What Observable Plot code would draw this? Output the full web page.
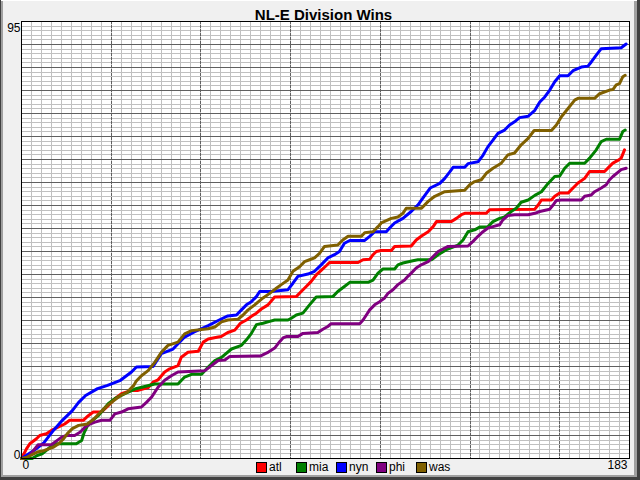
<!DOCTYPE html>
<html>
<head>
<meta charset="utf-8">
<script src="https://cdn.jsdelivr.net/npm/d3@7"></script>
<script src="https://cdn.jsdelivr.net/npm/@observablehq/plot@0.6"></script>
<style>
  html, body { margin: 0; padding: 0; background: #f0f0f0; }
  #wrap { position: relative; width: 640px; height: 480px; overflow: hidden; font-family: "Liberation Sans", Arial, sans-serif; }
  #wrap svg { position: absolute; left: 0; top: 0; }
  .b { position: absolute; }
  #legend { position: absolute; left: 0; top: 461px; height: 14px; width: 640px; }
  .item { position: absolute; top: 0; font-size: 12px; line-height: 12px; color: #000; }
  .sw { position: absolute; top: 1px; left: 0; width: 9px; height: 9px; border: 1px solid #000; }
  .lab { position: absolute; left: 13px; top: 0; white-space: nowrap; }
</style>
</head>
<body>
<div id="wrap"></div>
<script>
const teams = ["atl", "mia", "nyn", "phi", "was"];
const colors = ["#ff0000", "#008000", "#0000ff", "#800080", "#806000"];
const chartTitle = "NL-E Division Wins";
const yTicks = [0, 95];
const xTicks = [0, 183];

const atl = [[0,0],[1.5,2.1],[2.5,3.2],[4.5,4.3],[5.5,5],[7.5,5.4],[9,6.1],[13,7.5],[14.5,8.3],[18.6,8.3],[20.1,9.3],[21.6,10.1],[24.1,10.1],[26.1,11.5],[28.1,13],[30.1,14.1],[33.1,14.8],[35.1,14.8],[38.1,15.4],[39.6,16.6],[41.1,17.1],[43.1,18.8],[44.6,19.5],[47.1,20.2],[48.1,22],[50.1,23.1],[53.2,23.3],[54.7,25.3],[56.2,26],[59.2,26.4],[60.1,26.5],[62.1,27.4],[64.2,27.9],[65.9,29.4],[67.7,30.1],[69.2,30.9],[70.7,31.6],[72.2,32.5],[74.2,33.4],[76.2,35.1],[82.7,35.2],[84.2,36.3],[85.7,37.4],[87.2,38.5],[88.7,39.9],[90.2,40.9],[91.7,41.9],[92.7,42.6],[101.3,42.6],[102.8,43.2],[104.8,43.3],[105.8,44.3],[106.8,45],[108.3,45.2],[111.3,45.2],[112.3,46.1],[117.3,46.2],[118.8,47.5],[120.3,48.3],[122.4,49.3],[123.9,50.4],[124.9,51.5],[129.4,51.5],[130.9,52.2],[132.4,53],[133.4,53.3],[139.9,53.3],[140.9,54.1],[154.5,54.2],[155.5,55.1],[156.5,56.2],[159.5,56.2],[160.5,57],[162,57.7],[164.5,57.7],[166,58.8],[167.5,59.9],[169.5,60.9],[171,62.4],[175.5,62.4],[177,63.5],[178,64.2],[179.5,64.8],[180.5,65.3],[181.5,67.1]];

const mia = [[0,0],[3.2,0],[4.7,0.65],[6.2,1],[8.7,2.5],[10.2,3.2],[16.5,3.2],[18.1,3.9],[18.8,5.5],[20.1,7.5],[23.1,9.3],[26.1,11.9],[28.1,13],[31.1,14.1],[34.1,15.1],[40.1,16.2],[47.1,16.2],[49.1,17.7],[51.2,18.3],[54.2,18.3],[56.2,19.9],[58.2,21.3],[60.2,22],[63.2,23.8],[66.2,24.6],[67.7,25.8],[69.2,27.2],[70.7,29.1],[72.7,29.4],[74.7,29.8],[76.2,30.1],[80.2,30.1],[81.2,30.5],[82.7,31.2],[84.7,31.6],[86.7,33.4],[88.7,35.1],[93.7,35.2],[95.2,36.3],[97.2,37.4],[98.8,38.3],[104.3,38.3],[105.8,38.8],[107.3,40.3],[108.8,41.2],[112.3,41.2],[113.3,42.1],[114.8,42.5],[117.8,43],[119.3,43.2],[123.4,43.2],[125.4,44.3],[127.9,45.4],[131.4,46.4],[132.9,47.5],[134.4,49.3],[136.4,49.7],[137.9,50.3],[140.4,50.4],[141.9,51.5],[143.9,52.2],[145.4,52.5],[147.4,53.7],[148.9,54.4],[150.4,55.7],[152.5,56.2],[154.5,57.2],[156.5,58],[158.5,59.8],[160.5,61.3],[162,61.4],[163.5,63.1],[165,64.2],[169.5,64.2],[171,65.3],[173,67.1],[174.5,68.9],[176,69.4],[180,69.4],[181,71.1],[181.7,71.4]];

const nyn = [[0,0],[3.6,1.7],[6.6,3.3],[9.6,6.1],[12.3,8.3],[15.3,10.4],[17.2,12.2],[19.3,13.7],[22.9,15.2],[25.9,15.9],[29.8,17],[33.1,18.8],[34.6,19.9],[39.6,20],[42.1,22.8],[45.6,23.8],[49.1,26.4],[52,27.5],[56.2,28.9],[59.2,30],[62.1,31],[64.7,31.2],[66.2,32.3],[67.7,33.4],[69.2,34.1],[70.7,35.2],[71.7,36.3],[75.2,36.3],[80.2,36.7],[81.7,38.1],[83.2,39.6],[86.2,40.1],[88.2,40.7],[90.2,42.1],[92.2,43.6],[94.2,44.3],[95.7,45],[97.2,46.8],[98.8,47.4],[103.3,47.4],[104.8,48.3],[106.3,49.3],[109.8,49.3],[110.8,50.1],[112.3,51.2],[114.8,52.2],[117.3,53.7],[119.3,55.1],[120.8,56.6],[123,58.8],[125.9,59.8],[127.4,60.9],[128.9,62.3],[129.9,63.3],[133.4,63.3],[134.4,64.1],[137.4,64.5],[138.9,65.9],[140.4,67.8],[141.9,69.2],[143.4,70.7],[145.4,71.4],[146.9,72.5],[148.4,73.2],[149.9,74.1],[152.5,74.4],[154.5,75.7],[156,77.5],[157.5,78.6],[159,80.1],[160.5,81.9],[162,83.2],[164.5,83.2],[166,84.3],[168.5,85.1],[170.5,85.3],[171.5,86.2],[173,87.7],[174.5,89.1],[180.5,89.3],[182,90.1]];

const phi = [[0,0],[2,0.3],[4,2.1],[5,3],[9,3],[12,4.6],[13.5,5],[16,5],[17.6,5.7],[19.1,6.8],[20.6,7.5],[22.1,7.9],[24.1,8.3],[26.6,8.3],[28.1,9.7],[30.1,10.1],[32.1,10.8],[36.1,11.2],[37.6,12.2],[39.1,13.3],[41.1,15.5],[43.1,17],[45.1,18],[47.1,18.8],[55.2,19.1],[57.2,20.2],[59.2,21.3],[61.2,21.4],[62.7,22.2],[72,22.3],[74,23],[76.2,24],[77.7,25.4],[78.7,26.2],[79.7,26.5],[83.2,26.5],[84.7,27.2],[89.2,27.4],[90.7,28.1],[92.2,28.7],[93.2,29.3],[101.8,29.3],[102.8,30.1],[103.8,31.2],[104.8,32.3],[106.3,33.4],[107.8,34.1],[109.3,34.9],[110.3,35.9],[111.8,36.7],[113.3,37.8],[115.3,38.8],[116.3,39.6],[117.3,40.3],[118.8,41.4],[120.3,42.1],[122.4,42.8],[123.9,43.9],[125.4,45],[128.4,46.1],[134.4,46.2],[135.9,47.2],[137.4,48.3],[138.9,49.3],[140.4,50.1],[141.9,50.4],[143.9,50.8],[144.9,51.9],[146.4,52.8],[148.4,53],[152.5,53],[154.5,53.3],[156,53.7],[159,54.2],[160,55.1],[161,56.1],[162.5,56.2],[168.5,56.2],[169.5,57],[171.5,57.3],[172.5,58],[174.5,58.8],[176,59.5],[177,60.6],[178,61.3],[179.5,62.2],[180.5,62.8],[182,63.1]];

const was = [[0,0],[1.2,0.15],[2.7,0.65],[4.7,1.4],[6.7,1.7],[9.7,2.5],[11.2,3.2],[12.7,4.3],[13.8,5.4],[15.3,6.5],[17.2,7.2],[19.8,7.5],[21.8,8.6],[23.8,10.1],[25.8,11.5],[27.8,12.6],[29.8,13.7],[31.8,14.4],[33.8,15.9],[34.5,16.8],[36.1,18],[38.1,19.1],[40.1,20.9],[42.1,23.1],[44.1,24.6],[47.1,25.3],[49.1,27.1],[51.2,27.8],[56.2,28.2],[58.2,28.6],[60.2,29.7],[62.1,30.1],[65.2,30.3],[66.7,31.2],[68.2,32.3],[70.2,33.4],[72.7,34.9],[74.7,35.9],[76.7,37],[78.2,37.8],[80.2,38.8],[81.7,40.7],[83.7,41.7],[85.2,42.8],[86.7,43.2],[88.2,43.6],[89.7,44.6],[91.2,46.1],[95.2,46.4],[96.7,47.5],[98.3,48.3],[102.3,48.3],[103.3,49.1],[105.8,49.3],[107.3,50.4],[108.3,51.2],[111.3,52.2],[113.3,52.5],[114.8,53.3],[115.8,54.4],[120.4,54.4],[122.4,55.9],[124.4,57],[127.4,58],[133.4,58.3],[134.9,59.5],[136.4,60.2],[138.4,60.6],[139.9,62],[141.9,63.1],[144.4,64.2],[146.4,66],[148.4,66.4],[150.4,68.2],[152.5,69.6],[154.3,71.3],[159.5,71.3],[161,72.5],[162.5,74.3],[164.5,76.1],[166.5,77.9],[167.5,78.3],[172.5,78.3],[174,79.3],[177,80.1],[178,80.2],[179,81.2],[180,81.5],[181,83],[181.7,83.3]];

const series = {atl, mia, nyn, phi, was};
const rows = teams.flatMap(t => series[t].map(([day, wins]) => ({team: t, day, wins})));

const xMinorStep = 3, xMajorStep = 27, yMinorStep = 1, yMajorStep = 5;
const xDomain = [xTicks[0], xTicks[1]];
const yDomain = [yTicks[0], yTicks[1]];
const xMinor = d3.range(xDomain[0] + xMinorStep, xDomain[1], xMinorStep);
const xMajor = d3.range(xDomain[0] + xMajorStep, xDomain[1], xMajorStep);
const yMinor = d3.range(yDomain[0] + yMinorStep, yDomain[1], yMinorStep);
const yMajor = d3.range(yDomain[0] + yMajorStep, yDomain[1], yMajorStep);

const chart = Plot.plot({
  width: 640,
  height: 480,
  marginLeft: 21,
  marginTop: 21,
  marginRight: 11,
  marginBottom: 22,
  x: {domain: xDomain, axis: null},
  y: {domain: yDomain, axis: null},
  color: {domain: teams, range: colors},
  style: {background: "transparent", fontFamily: "Liberation Sans, Arial, sans-serif", color: "#000"},
  marks: [
    Plot.frame({fill: "white", stroke: "none"}),
    Plot.ruleX(xMinor, {x: d => d, stroke: "#c0c0c0", strokeWidth: 1, shapeRendering: "crispEdges"}),
    Plot.ruleY(yMinor, {y: d => d, stroke: "#c0c0c0", strokeWidth: 1, shapeRendering: "crispEdges"}),
    Plot.ruleY(yMajor, {y: d => d, stroke: "#606060", strokeWidth: 1, shapeRendering: "crispEdges"}),
    Plot.ruleX(xMajor, {x: d => d, stroke: "#606060", strokeWidth: 1, strokeDasharray: "3,1", shapeRendering: "crispEdges"}),
    Plot.line(rows, {x: "day", y: "wins", z: "team", stroke: "team", strokeWidth: 3, strokeLinejoin: "round", strokeLinecap: "round"}),
    Plot.frame({stroke: "#000", strokeWidth: 1, shapeRendering: "crispEdges"}),
    Plot.text([yTicks[1]], {y: d => d, frameAnchor: "left", textAnchor: "end", lineAnchor: "top", dx: -1, dy: 2, fontSize: 12, fill: "#000"}),
    Plot.text([yTicks[0]], {y: d => d, frameAnchor: "left", textAnchor: "end", lineAnchor: "bottom", dx: -1, dy: 0, fontSize: 12, fill: "#000"}),
    Plot.text([xTicks[0]], {x: d => d, frameAnchor: "bottom", textAnchor: "start", lineAnchor: "top", dx: 1, dy: 2, fontSize: 12, fill: "#000"}),
    Plot.text([xTicks[1]], {x: d => d, frameAnchor: "bottom", textAnchor: "end", lineAnchor: "top", dx: -2, dy: 2, fontSize: 12, fill: "#000"}),
    Plot.text([chartTitle], {frameAnchor: "top", textAnchor: "middle", lineAnchor: "bottom", dx: -2, dy: -2, fontSize: 15, fontWeight: "bold", fill: "#000"})
  ]
});

const wrap = document.getElementById("wrap");
wrap.appendChild(chart);

// legend
const legend = document.createElement("div");
legend.id = "legend";
teams.forEach((t, i) => {
  const item = document.createElement("div");
  item.className = "item";
  item.style.left = (256 + 40 * i) + "px";
  const sw = document.createElement("div");
  sw.className = "sw";
  sw.style.background = colors[i];
  const lab = document.createElement("span");
  lab.className = "lab";
  lab.textContent = t;
  item.appendChild(sw);
  item.appendChild(lab);
  legend.appendChild(item);
});
wrap.appendChild(legend);

// window bevel border
const borders = [
  {l: 0, t: 0, w: 640, h: 1, c: "#ffffff"},
  {l: 0, t: 0, w: 1, h: 480, c: "#404040"},
  {l: 1, t: 1, w: 2, h: 476, c: "#a0a0a0"},
  {l: 637, t: 0, w: 3, h: 480, c: "#404040"},
  {l: 634, t: 1, w: 3, h: 476, c: "#a0a0a0"},
  {l: 0, t: 477, w: 640, h: 3, c: "#404040"},
  {l: 1, t: 475, w: 636, h: 2, c: "#a0a0a0"}
];
borders.forEach(b => {
  const d = document.createElement("div");
  d.className = "b";
  d.style.left = b.l + "px"; d.style.top = b.t + "px";
  d.style.width = b.w + "px"; d.style.height = b.h + "px";
  d.style.background = b.c;
  wrap.appendChild(d);
});
</script>
</body>
</html>
